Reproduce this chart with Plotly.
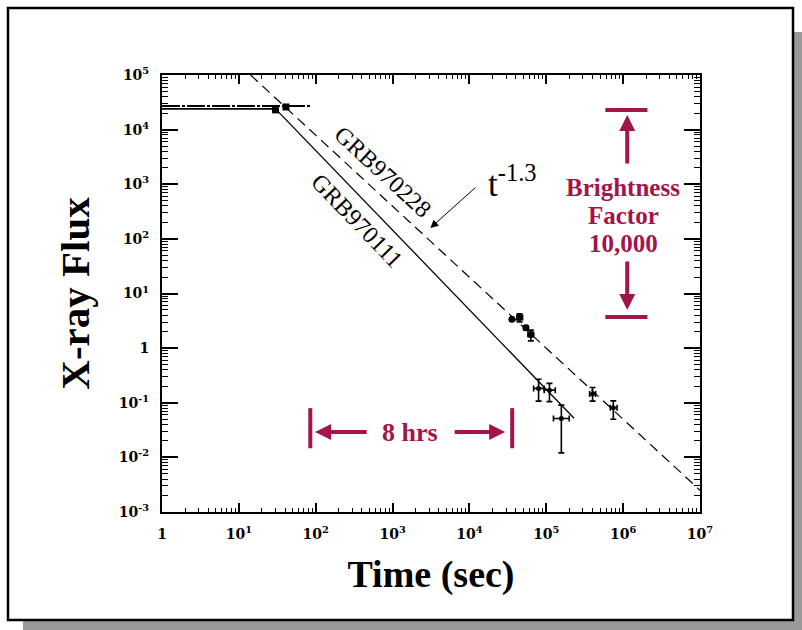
import math
import plotly.graph_objects as go

# ---------------------------------------------------------------- data
# Gamma-ray burst plateau levels (BeppoSAX GRBM), flux in arbitrary units
plateau_970111_t = [1, 30]
plateau_970111_f = [2.4e4, 2.4e4]
plateau_970228_t = [1, 85]
plateau_970228_f = [2.7e4, 2.7e4]

# Wide Field Camera points at the end of the burst
wfc_t = [30, 41]
wfc_f = [2.3e4, 2.6e4]

# Power-law decay of GRB970111 (solid) and the t^-1.3 law of GRB970228 (dashed)
decay_970111_t = [30, 2.3e5]
decay_970111_f = [2.4e4, 5.2e-2]
decay_970228_t = [14.2, 1.0e7]
decay_970228_f = [1.0e5, 2.5e-3]

# X-ray afterglow, first NFI pointing
ag1_t = [3.57e4, 4.49e4, 5.44e4, 6.30e4]
ag1_f = [3.36, 3.65, 2.35, 1.78]
ag1_f_plus = [0.0, 0.58, 0.20, 0.36]
ag1_f_minus = [0.0, 0.63, 0.20, 0.42]
ag1_t_plus = [0.0, 0.42e4, 0.20e4, 0.54e4]
ag1_t_minus = [0.0, 0.33e4, 0.20e4, 0.52e4]

# X-ray afterglow, later pointings
ag2_t = [7.94e4, 1.10e5, 1.57e5, 4.00e5, 7.45e5]
ag2_f = [0.183, 0.170, 0.0515, 0.144, 0.081]
ag2_f_plus = [0.086, 0.056, 0.039, 0.046, 0.027]
ag2_f_minus = [0.076, 0.065, 0.0394, 0.037, 0.031]
ag2_t_plus = [1.48e4, 2.1e4, 4.2e4, 0.39e5, 0.88e5]
ag2_t_minus = [1.10e4, 1.6e4, 3.3e4, 0.34e5, 0.65e5]

# Axis ticks
x_tick_vals = [1, 1e1, 1e2, 1e3, 1e4, 1e5, 1e6, 1e7]
x_tick_text = ["1", "10<sup>1</sup>", "10<sup>2</sup>", "10<sup>3</sup>",
               "10<sup>4</sup>", "10<sup>5</sup>", "10<sup>6</sup>", "10<sup>7</sup>"]
y_tick_vals = [1e-3, 1e-2, 1e-1, 1, 1e1, 1e2, 1e3, 1e4, 1e5]
y_tick_text = ["10<sup>-3</sup>", "10<sup>-2</sup>", "10<sup>-1</sup>", "1",
               "10<sup>1</sup>", "10<sup>2</sup>", "10<sup>3</sup>",
               "10<sup>4</sup>", "10<sup>5</sup>"]
minor_x = [m * 10 ** e for e in range(0, 7) for m in range(2, 10)]
minor_y = [m * 10.0 ** e for e in range(-3, 5) for m in range(2, 10)]

# Annotation anchors (time in s, flux)
span_8hrs = (85, 3.6e4)            # start / end of the "8 hrs" bracket
span_8hrs_bar = (0.0796, 0.0147)   # bar top / bottom flux
span_8hrs_y = 0.029
span_8hrs_arrow_tails = (481, 6150)
span_8hrs_arrow_heads = (98, 29200)
span_8hrs_label_t = 1695

bright_bar_t = (5.86e5, 2.07e6)
bright_levels = (2.29e4, 3.7)      # top bar flux, bottom bar flux
bright_arrow_t = 1.13e6
bright_up = (2250, 1.85e4)         # tail, head
bright_down = (40.9, 4.97)         # tail, head
bright_label_t = 1.0e6
bright_lines = ["Brightness", "Factor", "10,000"]
bright_line_f = [889, 273, 83.8]

CRIMSON = "#A3154A"
SERIF = "Liberation Serif, Times New Roman, serif"
TICKFONT = "DejaVu Serif, serif"

L, R, T, B = 162, 102, 75, 118
W, H = 802, 630
PW, PH = W - L - R, H - T - B


def px_to_paper(x, y):
    return (x - L) / PW, (H - B - y) / PH


fig = go.Figure()

# plateau levels
fig.add_trace(go.Scatter(x=plateau_970228_t, y=plateau_970228_f, mode="lines",
                         line=dict(color="black", width=2, dash="18px,2px,3px,2px"),
                         hoverinfo="skip", showlegend=False))
fig.add_trace(go.Scatter(x=plateau_970111_t, y=plateau_970111_f, mode="lines",
                         line=dict(color="black", width=1.6),
                         hoverinfo="skip", showlegend=False))
# decays
fig.add_trace(go.Scatter(x=decay_970111_t, y=decay_970111_f, mode="lines",
                         line=dict(color="black", width=1.3),
                         hoverinfo="skip", showlegend=False))
fig.add_trace(go.Scatter(x=decay_970228_t, y=decay_970228_f, mode="lines",
                         line=dict(color="black", width=1.2, dash="10px,6px"),
                         hoverinfo="skip", showlegend=False))
# WFC points
fig.add_trace(go.Scatter(x=wfc_t, y=wfc_f, mode="markers",
                         marker=dict(symbol="square", size=7, color="black"),
                         showlegend=False))
# afterglow points
err_style = dict(color="black", thickness=1.6, width=3)
fig.add_trace(go.Scatter(
    x=ag1_t, y=ag1_f, mode="markers",
    marker=dict(symbol="circle", size=7, color="black"),
    error_y=dict(type="data", array=ag1_f_plus, arrayminus=ag1_f_minus, **err_style),
    error_x=dict(type="data", array=ag1_t_plus, arrayminus=ag1_t_minus, **err_style),
    showlegend=False))
fig.add_trace(go.Scatter(
    x=ag2_t, y=ag2_f, mode="markers",
    marker=dict(symbol="circle", size=5, color="black"),
    error_y=dict(type="data", array=ag2_f_plus, arrayminus=ag2_f_minus, **err_style),
    error_x=dict(type="data", array=ag2_t_plus, arrayminus=ag2_t_minus, **err_style),
    showlegend=False))

lg = math.log10
shapes = []
# drop shadow and outer frame
sx0, sy0 = px_to_paper(23, 32)
sx1, sy1 = px_to_paper(810, 640)
shapes.append(dict(type="rect", xref="paper", yref="paper", x0=sx0, y0=sy0, x1=sx1, y1=sy1,
                   fillcolor="#999999", line=dict(width=0), layer="below"))
fx0, fy0 = px_to_paper(8, 8)
fx1, fy1 = px_to_paper(793, 620)
shapes.append(dict(type="rect", xref="paper", yref="paper", x0=fx0, y0=fy0, x1=fx1, y1=fy1,
                   fillcolor="white", line=dict(color="black", width=2.5), layer="below"))

# "8 hrs" bracket bars (shapes on log axes take data values)
for tt in span_8hrs:
    shapes.append(dict(type="line", xref="x", yref="y", x0=tt, x1=tt,
                       y0=span_8hrs_bar[0], y1=span_8hrs_bar[1],
                       line=dict(color=CRIMSON, width=4)))
# brightness factor bars
for ff in bright_levels:
    shapes.append(dict(type="line", xref="x", yref="y", x0=bright_bar_t[0], x1=bright_bar_t[1],
                       y0=ff, y1=ff, line=dict(color=CRIMSON, width=4)))

annotations = []
arrow_common = dict(xref="x", yref="y", axref="x", ayref="y", text="", showarrow=True,
                    arrowcolor=CRIMSON, arrowwidth=4, arrowhead=2, arrowsize=0.8)
for tail, head in zip(span_8hrs_arrow_tails, span_8hrs_arrow_heads):
    annotations.append(dict(x=lg(head), y=lg(span_8hrs_y), ax=lg(tail), ay=lg(span_8hrs_y), **arrow_common))
for tail, head in (bright_up, bright_down):
    annotations.append(dict(x=lg(bright_arrow_t), y=lg(head), ax=lg(bright_arrow_t), ay=lg(tail), **arrow_common))

annotations.append(dict(xref="x", yref="y", x=lg(span_8hrs_label_t), y=lg(span_8hrs_y),
                        text="<b>8 hrs</b>", showarrow=False,
                        font=dict(family=SERIF, size=26, color=CRIMSON)))
for line_text, ff in zip(bright_lines, bright_line_f):
    annotations.append(dict(xref="x", yref="y", x=lg(bright_label_t), y=lg(ff),
                            text=f"<b>{line_text}</b>", showarrow=False,
                            font=dict(family=SERIF, size=25, color=CRIMSON)))

# burst labels along the decays
annotations.append(dict(xref="x", yref="y", x=lg(7.5e2), y=lg(1.67e3), text="GRB970228",
                        textangle=42.7, showarrow=False,
                        font=dict(family=SERIF, size=24, color="black")))
annotations.append(dict(xref="x", yref="y", x=lg(3.46e2), y=lg(2.12e2), text="GRB970111",
                        textangle=46, showarrow=False,
                        font=dict(family=SERIF, size=24, color="black")))
# power-law index label with pointer
annotations.append(dict(xref="x", yref="y", x=lg(3.6e4), y=lg(1.1e3), text="t<sup>-1.3</sup>",
                        showarrow=False, font=dict(family=SERIF, size=35, color="black")))
annotations.append(dict(xref="x", yref="y", axref="x", ayref="y", x=lg(3.1e3), y=lg(1.58e2),
                        ax=lg(1.26e4), ay=lg(9.3e2), text="", showarrow=True,
                        arrowcolor="black", arrowwidth=1, arrowhead=2, arrowsize=1.6))

tick_font = dict(family=TICKFONT, size=14, color="black")
axis_common = dict(type="log", showgrid=False, zeroline=False, showline=True, linecolor="black",
                   linewidth=2, mirror="allticks", ticks="inside", tickcolor="black",
                   tickwidth=1.5, tickmode="array", tickfont=tick_font, ticklabelstandoff=8)

fig.update_layout(
    width=W, height=H,
    margin=dict(l=L, r=R, t=T, b=B, pad=0),
    paper_bgcolor="white", plot_bgcolor="rgba(0,0,0,0)",
    shapes=shapes, annotations=annotations, showlegend=False,
    xaxis=dict(range=[0, 7], tickvals=x_tick_vals, ticktext=[f"<b>{s}</b>" for s in x_tick_text],
               ticklen=9,
               minor=dict(tickmode="array", tickvals=minor_x, ticks="inside", ticklen=4,
                          tickcolor="black", tickwidth=1, showgrid=False),
               title=dict(text="<b>Time (sec)</b>", font=dict(family=SERIF, size=38, color="black"),
                          standoff=20),
               **axis_common),
    yaxis=dict(range=[-3, 5], tickvals=y_tick_vals, ticktext=[f"<b>{s}</b>" for s in y_tick_text],
               ticklen=16,
               minor=dict(tickmode="array", tickvals=minor_y, ticks="inside", ticklen=6,
                          tickcolor="black", tickwidth=1, showgrid=False),
               title=dict(text="<b>X-ray Flux</b>", font=dict(family=SERIF, size=41, color="black"),
                          standoff=16),
               **axis_common),
)

fig.write_html("out.html")
